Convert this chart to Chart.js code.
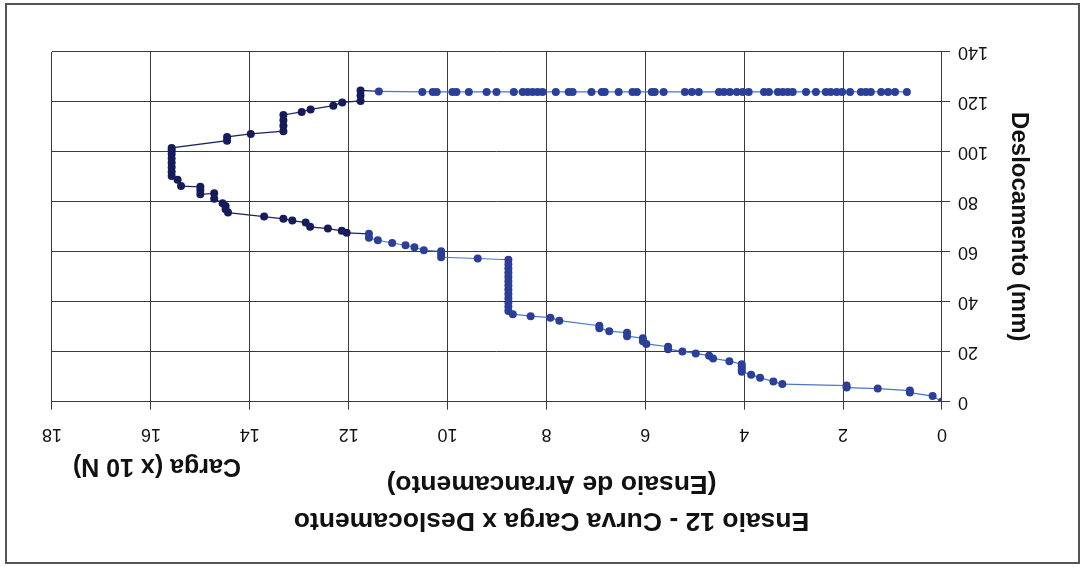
<!DOCTYPE html>
<html lang="pt">
<head>
<meta charset="UTF-8">
<title>Ensaio 12 - Curva Carga x Deslocamento</title>
<script src="https://cdn.jsdelivr.net/npm/chart.js"></script>
<style>
  body { margin: 0; background: #fff; }
  /* o gráfico é apresentado invertido (rodado 180°) */
  #wrap { position: relative; width: 1081px; height: 567px; transform: rotate(180deg); }
  #frame { position: absolute; left: 1px; top: 3px; width: 1071px; height: 557px; border: 2px solid #555; pointer-events: none; }
</style>
</head>
<body>
<div id="wrap">
  <canvas id="grafico"></canvas>
  <div id="frame"></div>
</div>

<script>
// Carga (x 10 N) e deslocamento (mm), pela ordem das leituras
const carga = [
  0, 0.19, 0.65, 0.65, 1.3, 1.93, 1.93, 3.23, 3.41, 3.68, 3.86, 4.05, 4.05, 4.05, 4.05,
  4.30, 4.63, 4.71, 4.98, 5.25, 5.54, 5.54, 5.98, 6.05, 6.05, 6.37, 6.37, 6.73, 6.93, 6.93,
  7.74, 7.92, 8.32, 8.68, 8.77,
  8.77, 8.77, 8.77, 8.77, 8.77, 8.77, 8.77, 8.77, 8.77, 8.77, 8.77, 8.77,
  9.39, 10.13, 10.13, 10.13, 10.48, 10.67, 10.85, 11.12, 11.41, 11.59, 11.59, 12.04, 12.14,
  12.42, 12.78, 12.87, 13.14, 13.32, 13.71, 14.44, 14.49, 14.49, 14.55, 14.72, 14.72,
  15.00, 15.00, 15.00, 15.39, 15.46, 15.58,
  15.58, 15.58, 15.58, 15.58, 15.58, 15.58, 15.58,
  14.46, 14.46, 13.98, 13.32, 13.32, 13.32, 13.32, 12.95, 12.77, 12.31, 12.13,
  11.76, 11.76, 11.76, 11.39,
  10.51, 10.30, 10.22, 9.90, 9.82, 9.57, 9.21, 9.01, 8.66, 8.48, 8.38, 8.28, 8.18, 8.08,
  7.81, 7.55, 7.47, 7.09, 6.88, 6.82, 6.54, 6.26, 6.17, 5.87, 5.81, 5.63, 5.20, 5.06, 4.92,
  4.51, 4.41, 4.29, 4.15, 4.03, 3.91, 3.60, 3.50, 3.32, 3.22, 3.12, 3.02, 2.75, 2.55, 2.35,
  2.25, 2.13, 2.02, 1.86, 1.64, 1.54, 1.44, 1.23, 1.09, 0.95, 0.71
];
const deslocamento = [
  0, 2.2, 3.6, 4.4, 5.2, 5.6, 6.4, 7.0, 8.0, 9.6, 10.8, 12.0, 13.0, 14.0, 15.0,
  16.2, 17.3, 18.4, 19.3, 20.1, 21.0, 22.0, 23.1, 24.2, 25.4, 26.2, 27.6, 28.2, 29.4, 30.4,
  32.4, 33.6, 34.2, 35.0, 36.3,
  38.0, 39.7, 41.4, 43.1, 44.8, 46.5, 48.2, 49.9, 51.6, 53.3, 55.0, 56.8,
  57.3, 57.8, 59.0, 60.2, 60.6, 61.8, 62.6, 63.5, 64.6, 65.6, 67.2, 67.6, 68.4,
  69.3, 70.0, 71.7, 72.5, 73.2, 74.1, 75.7, 77.0, 78.3, 79.4, 81.2, 83.4,
  83.0, 84.6, 86.0, 86.3, 88.8, 90.3,
  92.0, 93.8, 95.6, 97.4, 99.2, 100.6, 101.6,
  104.5, 106.0, 107.2, 108.3, 110.5, 112.7, 114.8, 116.0, 117.0, 118.5, 119.8,
  120.4, 122.6, 124.6, 124.2,
  124, 124, 124, 124, 124, 124, 124, 124, 124, 124, 124, 124, 124, 124,
  124, 124, 124, 124, 124, 124, 124, 124, 124, 124, 124, 124, 124, 124, 124,
  124, 124, 124, 124, 124, 124, 124, 124, 124, 124, 124, 124, 124, 124, 124,
  124, 124, 124, 124, 124, 124, 124, 124, 124, 124, 124
];

const titulo = ['Ensaio 12 - Curva Carga x Deslocamento', '(Ensaio de Arrancamento)'];
const tituloX = 'Carga (x 10 N)';
const tituloY = 'Deslocamento (mm)';

const pontos = carga.map((c, i) => ({ x: c, y: deslocamento[i] }));

// trecho de carga máxima sai mais escuro na impressão
const escuro = c => c >= 11.7;
const corLinha = '#4a78c8', corLinhaEsc = '#1b2463';
const corPonto = '#2b3f99', corPontoEsc = '#161b5a';
const corGrade = '#3a3a3a';

Chart.defaults.font.family = '"Liberation Sans", Arial, sans-serif';
Chart.defaults.color = '#111';

new Chart(document.getElementById('grafico'), {
  type: 'scatter',
  data: {
    datasets: [{
      data: pontos,
      showLine: true,
      borderWidth: 1.2,
      borderColor: corLinha,
      pointRadius: 4,
      pointBorderWidth: 0,
      pointBackgroundColor: ctx => escuro(ctx.raw.x) ? corPontoEsc : corPonto,
      segment: {
        borderColor: s => (escuro(s.p0.parsed.x) || escuro(s.p1.parsed.x)) ? corLinhaEsc : corLinha
      }
    }]
  },
  options: {
    animation: false,
    responsive: true,
    maintainAspectRatio: false,
    layout: { padding: { top: 0, left: 30, right: 52, bottom: 52 } },
    plugins: {
      legend: { display: false },
      tooltip: { enabled: false },
      title: {
        display: true,
        text: titulo,
        color: '#111',
        font: { size: 26.5, weight: 'bold', lineHeight: 1.4 },
        padding: { top: 28.5, bottom: -22.3 }
      }
    },
    scales: {
      x: {
        type: 'linear',
        position: 'top',
        min: 0,
        max: 18,
        ticks: { stepSize: 2, font: { size: 18 }, padding: 14 },
        grid: { color: corGrade, tickLength: 8 },
        border: { color: corGrade },
        title: {
          display: true,
          // espaços finais afastam o título da borda direita
          text: tituloX + '\u00a0\u00a0\u00a0',
          align: 'end',
          font: { size: 25, weight: 'bold' },
          padding: { top: 6, bottom: 0 }
        },
        afterFit: s => { s.height = 85; }
      },
      y: {
        type: 'linear',
        reverse: true,
        min: 0,
        max: 140,
        ticks: { stepSize: 20, font: { size: 18 }, padding: 8 },
        grid: { color: corGrade, tickLength: 8 },
        border: { color: corGrade },
        title: {
          display: true,
          text: tituloY,
          font: { size: 24, weight: 'bold' },
          padding: { top: 17.6, bottom: 0 }
        },
        afterFit: s => { s.width = 109; }
      }
    }
  }
});
</script>
</body>
</html>
